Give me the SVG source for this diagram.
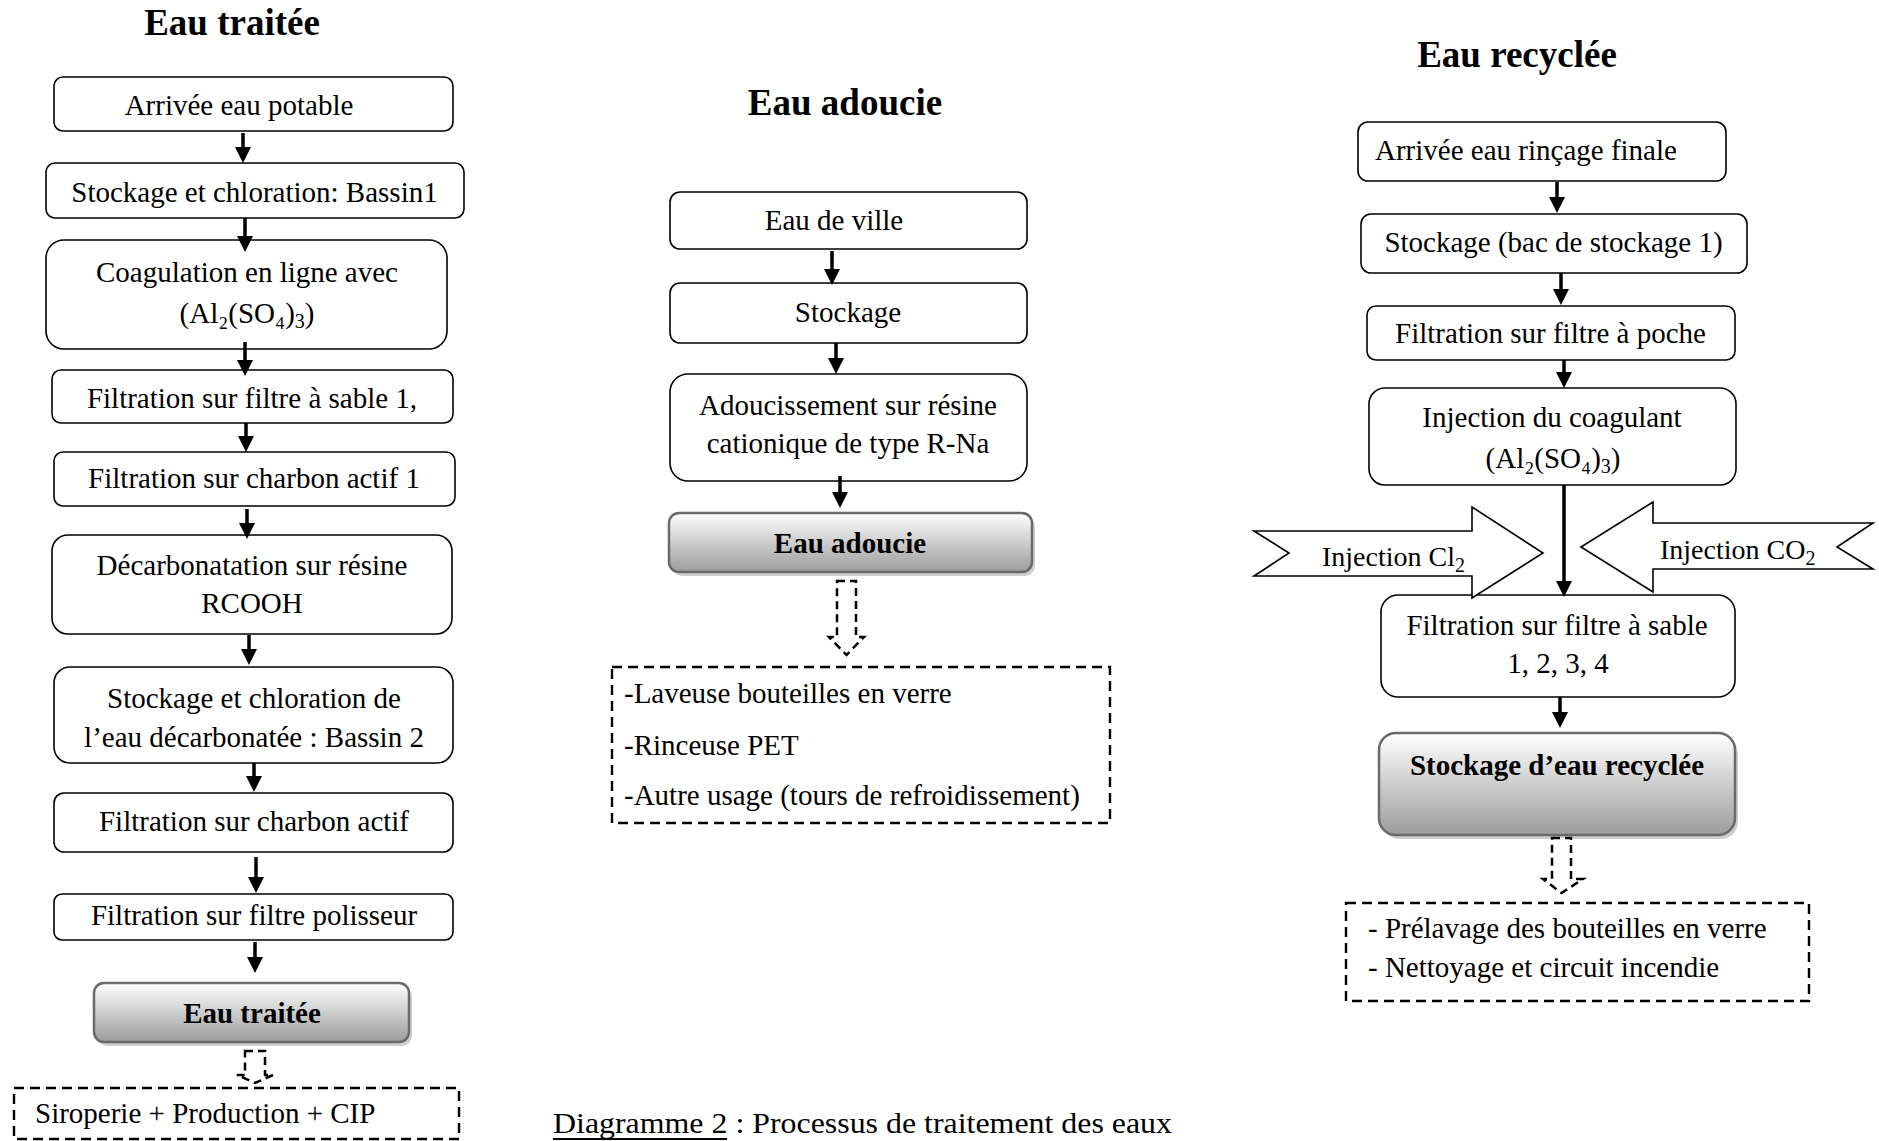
<svg xmlns="http://www.w3.org/2000/svg" width="1879" height="1141" viewBox="0 0 1879 1141">
<style>
  text { font-family: "Liberation Serif", "Times New Roman", serif; font-size: 29px; fill: #000; }
  .title { font-size: 37px; font-weight: bold; }
  .bold { font-weight: bold; }
  .box { fill: #fff; stroke: #000; stroke-width: 1.6; }
  .gbox { fill: url(#grad); stroke: #6a6a6a; stroke-width: 2.5; }
  .shadow { fill: #cfcfcf; }
  .dbox { fill: none; stroke: #000; stroke-width: 2.4; stroke-dasharray: 10 6; }
  .hollow { fill: #fff; stroke: #000; stroke-width: 2.5; stroke-dasharray: 8 5; }
  .inj { fill: #fff; stroke: #000; stroke-width: 1.6; }
  .conn { stroke: #000; stroke-width: 3.5; fill: none; marker-end: url(#ah); }
  .sub { font-size: 20px; }
</style>
<defs>
  <linearGradient id="grad" x1="0" y1="0" x2="0" y2="1">
    <stop offset="0" stop-color="#ffffff"/>
    <stop offset="1" stop-color="#9c9c9c"/>
  </linearGradient>
  <marker id="ah" markerUnits="userSpaceOnUse" markerWidth="16" markerHeight="16" viewBox="0 0 16 16" refX="12" refY="8" orient="auto">
    <path d="M0,0 L16,8 L0,16 z" fill="#000"/>
  </marker>
</defs>

<!-- Titles -->
<text class="title" x="232" y="35" text-anchor="middle">Eau traitée</text>
<text class="title" x="845" y="115" text-anchor="middle">Eau adoucie</text>
<text class="title" x="1517" y="67" text-anchor="middle">Eau recyclée</text>

<!-- Left column -->
<g id="t1"><rect class="box" x="54" y="77" width="399" height="54" rx="9"/><text x="239" y="115" text-anchor="middle">Arrivée eau potable</text></g>
<g id="t2"><rect class="box" x="46" y="163" width="418" height="55" rx="9"/><text x="254.5" y="202" text-anchor="middle">Stockage et chloration: Bassin1</text></g>
<g id="t3"><rect class="box" x="46" y="240" width="401" height="109" rx="18"/><text x="247" y="282" text-anchor="middle">Coagulation en ligne avec</text><text x="247" y="323" text-anchor="middle">(Al₂(SO₄)<tspan class="sub" dy="5">3</tspan><tspan dy="-5">)</tspan></text></g>
<g id="t4"><rect class="box" x="52" y="370" width="401" height="53" rx="9"/><text x="252" y="408" text-anchor="middle">Filtration sur filtre à sable 1,</text></g>
<g id="t5"><rect class="box" x="54" y="452" width="401" height="54" rx="9"/><text x="254" y="488" text-anchor="middle">Filtration sur charbon actif 1</text></g>
<g id="t6"><rect class="box" x="52" y="535" width="400" height="99" rx="16"/><text x="252" y="575" text-anchor="middle">Décarbonatation sur résine</text><text x="252" y="613" text-anchor="middle">RCOOH</text></g>
<g id="t7"><rect class="box" x="54" y="667" width="399" height="96" rx="16"/><text x="254" y="708" text-anchor="middle">Stockage et chloration de</text><text x="254" y="747" text-anchor="middle">l’eau décarbonatée : Bassin 2</text></g>
<g id="t8"><rect class="box" x="54" y="793" width="399" height="59" rx="10"/><text x="254" y="831" text-anchor="middle">Filtration sur charbon actif</text></g>
<g id="t9"><rect class="box" x="54" y="894" width="399" height="46" rx="8"/><text x="254" y="925" text-anchor="middle">Filtration sur filtre polisseur</text></g>
<g id="t10"><rect class="shadow" x="97" y="987" width="315" height="59" rx="10"/><rect class="gbox" x="94" y="983" width="315" height="59" rx="10"/><text class="bold" x="252" y="1023" text-anchor="middle">Eau traitée</text></g>
<g id="t11"><rect class="dbox" x="14" y="1088" width="445" height="51"/><text x="35" y="1123">Siroperie + Production + CIP</text></g>

<!-- Middle column -->
<g id="m1"><rect class="box" x="670" y="192" width="357" height="57" rx="10"/><text x="834" y="230" text-anchor="middle">Eau de ville</text></g>
<g id="m2"><rect class="box" x="670" y="283" width="357" height="60" rx="10"/><text x="848" y="322" text-anchor="middle">Stockage</text></g>
<g id="m3"><rect class="box" x="670" y="374" width="357" height="107" rx="18"/><text x="848" y="415" text-anchor="middle">Adoucissement sur résine</text><text x="848" y="453" text-anchor="middle">cationique de type R-Na</text></g>
<g id="m4"><rect class="shadow" x="672" y="517" width="363" height="59" rx="10"/><rect class="gbox" x="669" y="513" width="363" height="59" rx="10"/><text class="bold" x="850" y="553" text-anchor="middle">Eau adoucie</text></g>
<g id="m5"><rect class="dbox" x="612" y="667" width="498" height="156"/><text x="624" y="703">-Laveuse bouteilles en verre</text><text x="624" y="755">-Rinceuse PET</text><text x="624" y="805">-Autre usage (tours de refroidissement)</text></g>

<!-- Right column -->
<g id="r1"><rect class="box" x="1358" y="122" width="368" height="59" rx="10"/><text x="1375" y="160">Arrivée eau rinçage finale</text></g>
<g id="r2"><rect class="box" x="1361" y="214" width="386" height="59" rx="10"/><text x="1553.5" y="252" text-anchor="middle">Stockage (bac de stockage 1)</text></g>
<g id="r3"><rect class="box" x="1367" y="306" width="368" height="54" rx="9"/><text x="1550.5" y="343" text-anchor="middle">Filtration sur filtre à poche</text></g>
<g id="r4"><rect class="box" x="1369" y="388" width="367" height="97" rx="16"/><text x="1552" y="427" text-anchor="middle">Injection du coagulant</text><text x="1553" y="468" text-anchor="middle">(Al₂(SO₄)<tspan class="sub" dy="5">3</tspan><tspan dy="-5">)</tspan></text></g>
<g id="r5"><rect class="box" x="1381" y="595" width="354" height="102" rx="17"/><text x="1557" y="635" text-anchor="middle">Filtration sur filtre à sable</text><text x="1558" y="673" text-anchor="middle">1, 2, 3, 4</text></g>
<g id="r6"><rect class="shadow" x="1382" y="737" width="356" height="102" rx="17"/><rect class="gbox" x="1379" y="733" width="356" height="102" rx="17"/><text class="bold" x="1557" y="775" text-anchor="middle">Stockage d’eau recyclée</text></g>
<g id="r7"><rect class="dbox" x="1346" y="903" width="463" height="98"/><text x="1368" y="938">- Prélavage des bouteilles en verre</text><text x="1368" y="977">- Nettoyage et circuit incendie</text></g>
<g id="injCl2"><polygon class="inj" points="1254,531 1472,531 1472,507 1543,553 1472,598 1472,576 1254,576 1289,553"/><text x="1322" y="566" style="font-size:28px">Injection Cl<tspan class="sub" dy="6">2</tspan></text></g>
<g id="injCO2"><polygon class="inj" points="1581,547 1653,502 1653,523 1873,523 1837,547 1873,569 1653,569 1653,592"/><text x="1660" y="559" style="font-size:28px">Injection CO<tspan class="sub" dy="6">2</tspan></text></g>

<!-- Connectors -->
<g id="connectors">
  <line class="conn" x1="243" y1="133" x2="243" y2="159"/>
  <line class="conn" x1="245" y1="218" x2="245" y2="248"/>
  <line class="conn" x1="245" y1="342" x2="245" y2="372"/>
  <line class="conn" x1="246" y1="423" x2="246" y2="448"/>
  <line class="conn" x1="247" y1="509" x2="247" y2="535"/>
  <line class="conn" x1="249" y1="635" x2="249" y2="661"/>
  <line class="conn" x1="254" y1="763" x2="254" y2="788"/>
  <line class="conn" x1="256" y1="857" x2="256" y2="889"/>
  <line class="conn" x1="255" y1="942" x2="255" y2="969"/>
  <polygon class="hollow" points="245,1051 265,1051 265,1075 273,1075 255,1083 237,1075 245,1075"/>

  <line class="conn" x1="832" y1="251" x2="832" y2="281"/>
  <line class="conn" x1="836" y1="343" x2="836" y2="370"/>
  <line class="conn" x1="840" y1="476" x2="840" y2="504"/>
  <polygon class="hollow" points="837,581 856,581 856,637 864,637 846.5,655 829,637 837,637"/>

  <line class="conn" x1="1557" y1="182" x2="1557" y2="209"/>
  <line class="conn" x1="1561" y1="273" x2="1561" y2="301"/>
  <line class="conn" x1="1564" y1="360" x2="1564" y2="384"/>
  <line class="conn" x1="1564" y1="485" x2="1564" y2="593"/>
  <line class="conn" x1="1560" y1="697" x2="1560" y2="724"/>
  <polygon class="hollow" points="1552,838 1571,838 1571,879 1583,879 1561.5,893 1543,879 1552,879"/>
</g>

<!-- Caption -->
<text x="553" y="1133" textLength="619" lengthAdjust="spacingAndGlyphs">Diagramme 2 : Processus de traitement des eaux</text>
<line x1="553" y1="1139" x2="727" y2="1139" stroke="#000" stroke-width="1.8"/>
</svg>
